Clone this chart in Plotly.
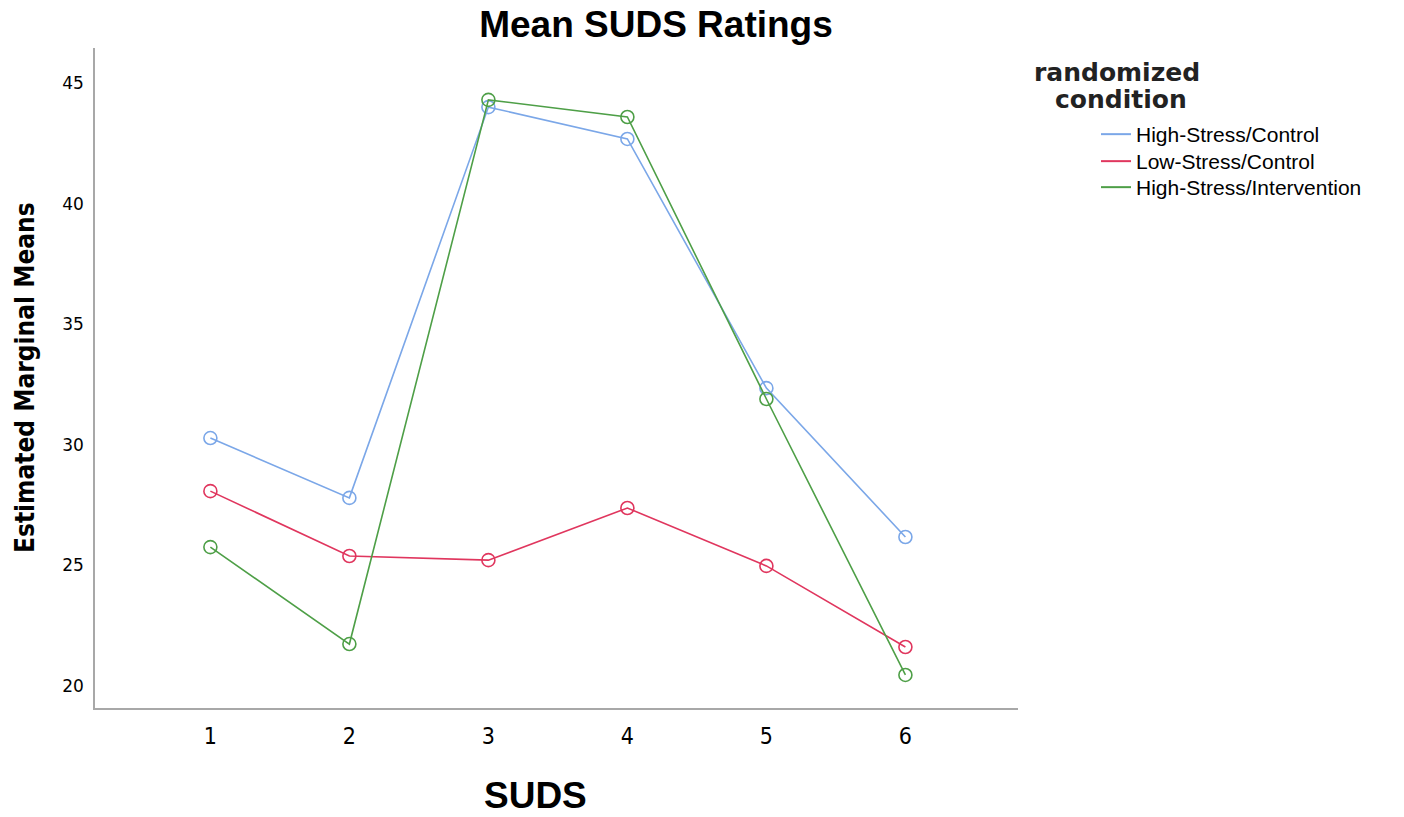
import plotly.graph_objects as go

suds = [1, 2, 3, 4, 5, 6]
high_stress_control = [30.28, 27.8, 44.0, 42.68, 32.35, 26.18]
low_stress_control = [28.08, 25.39, 25.22, 27.38, 24.98, 21.62]
high_stress_intervention = [25.76, 21.74, 44.3, 43.59, 31.9, 20.46]
y_ticks = [20, 25, 30, 35, 40, 45]

series = [
    ("High-Stress/Control", high_stress_control, "#7BA7E8"),
    ("Low-Stress/Control", low_stress_control, "#E0365E"),
    ("High-Stress/Intervention", high_stress_intervention, "#4E9F47"),
]

W, H = 1404, 817
L, R, T, B = 95, 1018, 48, 708
pw, ph = R - L, B - T

def px_x(x):
    return (x - L) / pw

def px_y(y):
    return (B - y) / ph

legend_ids = ["legend", "legend2", "legend3"]
legend_tops = [114, 141, 167]

fig = go.Figure()
for name, vals, col in series:
    fig.add_trace(go.Scatter(
        x=suds, y=vals, name=name, mode="lines+markers", showlegend=False,
        line=dict(color=col, width=1.6),
        marker=dict(symbol="circle-open", size=13, color=col, line=dict(width=1.6, color=col)),
    ))
for (name, vals, col), lid in zip(series, legend_ids):
    fig.add_trace(go.Scatter(
        x=[None], y=[None], name=name, mode="lines", showlegend=True, legend=lid,
        line=dict(color=col, width=2),
    ))

legend_common = dict(xanchor="left", yanchor="top",
                     font=dict(family="Liberation Sans, Arial", size=21, color="black"),
                     itemwidth=30, bgcolor="rgba(0,0,0,0)")
layout_legends = {}
for lid, top in zip(legend_ids, legend_tops):
    layout_legends[lid] = dict(x=px_x(1096), y=px_y(top), **legend_common)

fig.update_layout(
    width=W, height=H,
    paper_bgcolor="white", plot_bgcolor="white",
    margin=dict(l=L, r=W - R, t=T, b=H - B, autoexpand=False),
    title=dict(text="<b>Mean SUDS Ratings</b>", x=656 / W, xanchor="center",
               y=1 - 24 / H, yanchor="middle",
               font=dict(family="Liberation Sans, Arial", size=37, color="black")),
    showlegend=True,
    annotations=[
        dict(text="<b>randomized</b>", xref="paper", yref="paper",
             x=px_x(1117), y=px_y(73), xanchor="center", yanchor="middle",
             showarrow=False, font=dict(family="DejaVu Sans", size=25, color="#222")),
        dict(text="<b>condition</b>", xref="paper", yref="paper",
             x=px_x(1121), y=px_y(99), xanchor="center", yanchor="middle",
             showarrow=False, font=dict(family="DejaVu Sans", size=25, color="#222")),
        dict(text="<b>SUDS</b>", xref="paper", yref="paper",
             x=px_x(535), y=px_y(795), xanchor="center", yanchor="middle",
             showarrow=False, font=dict(family="Liberation Sans, Arial", size=37, color="black")),
        dict(text="<b>Estimated Marginal Means</b>", xref="paper", yref="paper",
             x=px_x(25), y=px_y(378), xanchor="center", yanchor="middle", textangle=-90,
             showarrow=False, font=dict(family="DejaVu Sans Condensed, DejaVu Sans", size=26, color="black")),
    ],
    **layout_legends,
)
fig.update_xaxes(
    range=[0.17, 6.81], tickvals=suds, ticktext=[str(s) for s in suds],
    showgrid=False, zeroline=False, showline=True, linecolor="#a8a8a8", linewidth=1.5,
    ticks="outside", ticklen=7, tickcolor="rgba(0,0,0,0)",
    tickfont=dict(family="DejaVu Sans Condensed, DejaVu Sans", size=23, color="black"),
)
fig.update_yaxes(
    range=[19.09, 46.45], tickvals=y_ticks,
    showgrid=False, zeroline=False, showline=True, linecolor="#a8a8a8", linewidth=1.5,
    ticks="outside", ticklen=6, tickcolor="rgba(0,0,0,0)",
    tickfont=dict(family="DejaVu Sans", size=17, color="black"),
)

fig.write_html("out.html", config={"displayModeBar": False},
               post_script="document.body.style.margin='0';document.body.style.overflow='hidden';")
